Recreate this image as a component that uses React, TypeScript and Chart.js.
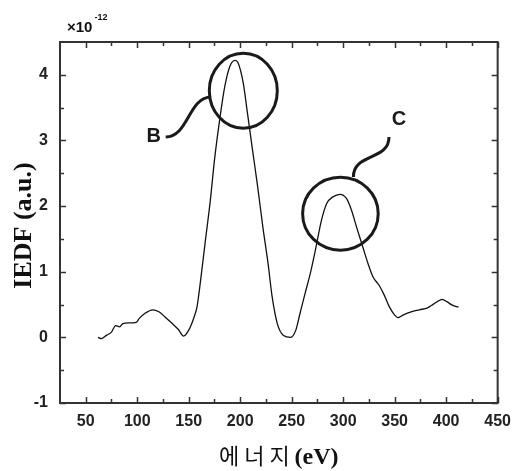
import { useEffect, useRef } from "react";
import { Chart, registerables } from "chart.js";

Chart.register(...registerables);

// Energy (eV) and IEDF (×10^-12, a.u.)
const energy = [
  62, 65, 70, 75, 79, 83, 86, 92, 99, 102,
  107, 115, 121, 127, 134, 140, 145, 150, 155, 158,
  161, 166, 171, 175, 180, 185, 190, 195, 198, 203,
  207, 212, 217, 222, 227, 231, 236, 242, 249, 254,
  258, 263, 268, 273, 279, 284, 290, 297, 303, 308,
  313, 319, 324, 329, 335, 340, 345, 350, 353, 358,
  366, 374, 382, 386, 391, 396, 401, 406, 412,
];
const iedf = [
  0.0, -0.02, 0.03, 0.08, 0.18, 0.16, 0.21, 0.22, 0.23, 0.29,
  0.36, 0.42, 0.39, 0.31, 0.21, 0.12, 0.02, 0.11, 0.3, 0.46,
  0.8, 1.45, 2.09, 2.7, 3.31, 3.82, 4.13, 4.22, 4.18, 3.87,
  3.42, 2.85, 2.29, 1.68, 1.13, 0.62, 0.21, 0.03, 0.0, 0.11,
  0.36, 0.67, 0.97, 1.33, 1.79, 2.04, 2.14, 2.18, 2.12, 1.94,
  1.68, 1.38, 1.13, 0.92, 0.79, 0.64, 0.46, 0.34, 0.3, 0.34,
  0.39, 0.42, 0.45, 0.49, 0.54, 0.58, 0.54, 0.49, 0.46,
];

const xMin = 25;
const xMax = 450;
const yMin = -1;
const yMax = 4.5;
const xTicks = [50, 100, 150, 200, 250, 300, 350, 400, 450];
const xMinorTicks = [75, 125, 175, 225, 275, 325, 375, 425];
const yTicks = [-1, 0, 1, 2, 3, 4];
const yMinorTicks = [-0.5, 0.5, 1.5, 2.5, 3.5];

const xTitleKo = "에 너 지 ";
const xTitleUnit = "(eV)";
const yTitle = "IEDF (a.u.)";
const scaleBase = "×10";
const scaleExp = "-12";

// Annotations (data coordinates)
const markLabels = ["B", "C"];
const markCenterX = [203, 297.3];
const markCenterY = [3.757, 1.885];
const markLabelX = [116.1, 354.1];
const markLabelY = [3.053, 3.312];
const leaderStartX = [127.65, 344.5];
const leaderStartY = [3.053, 3.053];
const leaderEndX = [171.8, 309.9];
const leaderEndY = [3.662, 2.444];

const decorPlugin = {
  id: "decor",
  afterDraw(chart: any) {
    const { ctx, chartArea: ca, scales } = chart;
    const xs = scales.x;
    const ys = scales.y;
    ctx.save();

    // ticks (inward, all four sides)
    ctx.strokeStyle = "#333";
    ctx.lineWidth = 1.5;
    const seg = (x1: number, y1: number, x2: number, y2: number) => {
      ctx.beginPath();
      ctx.moveTo(x1, y1);
      ctx.lineTo(x2, y2);
      ctx.stroke();
    };
    const xTick = (v: number, len: number) => {
      const p = Math.round(xs.getPixelForValue(v)) + 0.5;
      seg(p, ca.bottom, p, ca.bottom - len);
      seg(p, ca.top, p, ca.top + len);
    };
    const yTick = (v: number, len: number) => {
      const p = Math.round(ys.getPixelForValue(v)) + 0.5;
      seg(ca.left, p, ca.left + len, p);
      seg(ca.right, p, ca.right - len, p);
    };
    xTicks.forEach((v) => xTick(v, 6));
    xMinorTicks.forEach((v) => xTick(v, 4));
    yTicks.forEach((v) => yTick(v, 6));
    yMinorTicks.forEach((v) => yTick(v, 4));

    // frame
    ctx.lineWidth = 2;
    ctx.strokeRect(ca.left, ca.top, ca.right - ca.left, ca.bottom - ca.top);

    // circles, leaders and labels
    ctx.strokeStyle = "#1a1a1a";
    ctx.fillStyle = "#1a1a1a";
    ctx.lineWidth = 3;
    const radX = [34, 37.8];
    const radY = [37.5, 36.5];
    markLabels.forEach((lab, i) => {
      const cx = xs.getPixelForValue(markCenterX[i]);
      const cy = ys.getPixelForValue(markCenterY[i]);
      ctx.beginPath();
      ctx.ellipse(cx, cy, radX[i], radY[i], 0, 0, Math.PI * 2);
      ctx.stroke();

      const x0 = xs.getPixelForValue(leaderStartX[i]);
      const y0 = ys.getPixelForValue(leaderStartY[i]);
      const x3 = xs.getPixelForValue(leaderEndX[i]);
      const y3 = ys.getPixelForValue(leaderEndY[i]);
      ctx.beginPath();
      ctx.moveTo(x0, y0);
      if (i === 0) {
        const mx = (x0 + x3) / 2;
        ctx.bezierCurveTo(mx, y0, mx, y3, x3, y3);
      } else {
        const my = (y0 + y3) / 2;
        ctx.bezierCurveTo(x0, my + 4, x3, my - 4, x3, y3);
      }
      ctx.stroke();

      ctx.font = "bold 20px 'Liberation Sans', Arial, sans-serif";
      ctx.textAlign = "center";
      ctx.textBaseline = "middle";
      ctx.fillText(lab, xs.getPixelForValue(markLabelX[i]), ys.getPixelForValue(markLabelY[i]));
    });

    // y title
    ctx.fillStyle = "#111";
    ctx.save();
    ctx.translate(24, (ca.top + ca.bottom) / 2 + 3);
    ctx.rotate(-Math.PI / 2);
    ctx.font = "bold 26px 'Liberation Serif', 'Times New Roman', serif";
    ctx.textAlign = "center";
    ctx.textBaseline = "middle";
    ctx.fillText(yTitle, 0, 0);
    ctx.restore();

    // x title (mixed fonts)
    const koFont = "22px 'Noto Sans CJK KR', sans-serif";
    const unitFont = "bold 24px 'Liberation Serif', 'Times New Roman', serif";
    ctx.font = koFont;
    const wKo = ctx.measureText(xTitleKo).width;
    ctx.font = unitFont;
    const wUnit = ctx.measureText(xTitleUnit).width;
    const startX = (ca.left + ca.right) / 2 - (wKo + wUnit) / 2;
    ctx.textAlign = "left";
    ctx.textBaseline = "alphabetic";
    ctx.font = koFont;
    ctx.fillText(xTitleKo, startX, 464);
    ctx.font = unitFont;
    ctx.fillText(xTitleUnit, startX + wKo, 464);

    // ×10^-12 multiplier
    ctx.font = "bold 15px 'Liberation Sans', Arial, sans-serif";
    const bx = ca.left + 7;
    ctx.fillText(scaleBase, bx, ca.top - 10);
    const wb = ctx.measureText(scaleBase).width;
    ctx.font = "bold 9px 'Liberation Sans', Arial, sans-serif";
    ctx.fillText(scaleExp, bx + wb + 2, ca.top - 22);

    ctx.restore();
  },
};

export default function App() {
  const canvasRef = useRef<HTMLCanvasElement | null>(null);

  useEffect(() => {
    if (!canvasRef.current) return;
    const tickFont = { family: "'Liberation Sans', Arial, sans-serif", weight: "bold" as const, size: 16 };
    const chart = new Chart(canvasRef.current, {
      type: "line",
      data: {
        datasets: [
          {
            data: energy.map((e, i) => ({ x: e, y: iedf[i] })),
            borderColor: "#111",
            borderWidth: 1.3,
            pointRadius: 0,
            fill: false,
            cubicInterpolationMode: "monotone",
          },
        ],
      },
      options: {
        animation: false,
        responsive: false,
        devicePixelRatio: 1,
        layout: { padding: { left: 0, right: 17, top: 42, bottom: 0 } },
        plugins: { legend: { display: false }, tooltip: { enabled: false } },
        scales: {
          x: {
            type: "linear",
            min: xMin,
            max: xMax,
            afterBuildTicks: (s: any) => {
              s.ticks = xTicks.map((v) => ({ value: v }));
            },
            afterFit: (s: any) => {
              s.height = 68;
            },
            grid: { display: false, drawTicks: false },
            border: { display: false },
            ticks: { font: tickFont, color: "#222", padding: 9, maxRotation: 0, autoSkip: false },
          },
          y: {
            type: "linear",
            min: yMin,
            max: yMax,
            afterBuildTicks: (s: any) => {
              s.ticks = yTicks.map((v) => ({ value: v }));
            },
            afterFit: (s: any) => {
              s.width = 60;
            },
            grid: { display: false, drawTicks: false },
            border: { display: false },
            ticks: { font: tickFont, color: "#222", padding: 12, autoSkip: false },
          },
        },
      },
      plugins: [decorPlugin],
    });
    return () => chart.destroy();
  }, []);

  return (
    <div style={{ position: "absolute", left: 0, top: 0, width: 520, height: 471, background: "#fff" }}>
      <canvas ref={canvasRef} width={520} height={471} style={{ display: "block" }} />
    </div>
  );
}
